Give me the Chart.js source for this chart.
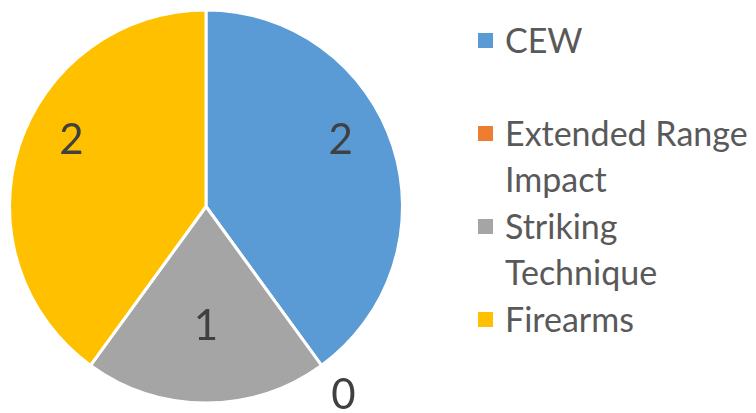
<!DOCTYPE html>
<html>
<head>
  <meta charset="UTF-8">
  <title>Pie</title>
  <style>
    body {
      margin: 0;
      background: #fff;
      width: 756px;
      height: 413px;
      overflow: hidden;
      position: relative;
      font-family: Lato, "Open Sans", sans-serif;
    }
    .pie-box {
      position: absolute;
      left: 0;
      top: 0;
      width: 412px;
      height: 413px;
    }
    /* legend on the right, one item every 93px */
    .legend {
      position: absolute;
      left: 478px;
      top: 17px;
      margin: 0;
      padding: 0;
      list-style: none;
    }
    .legend li {
      position: relative;
      height: 93px;
      padding-left: 27px;
      width: 250px;
      font-size: 34px;
      line-height: 46px;
      color: #595959;
    }
    .legend li span {
      position: absolute;
      left: 0;
      top: 16px;
      width: 15px;
      height: 15px;
    }
  </style>
</head>
<body>
  <div class="pie-box">
    <canvas id="grafica"></canvas>
  </div>
  <ul class="legend" id="leyenda"></ul>

  <script src="https://cdn.jsdelivr.net/npm/chart.js"></script>
  <script>
    var categorias = ['CEW', 'Extended Range Impact', 'Striking Technique', 'Firearms'];
    var valores = [2, 0, 1, 2];
    var colores = ['#5B9BD5', '#ED7D31', '#A5A5A5', '#FFC000'];

    // legend built from the same arrays
    var ul = document.getElementById('leyenda');
    categorias.forEach(function (c, i) {
      var li = document.createElement('li');
      var sq = document.createElement('span');
      sq.style.background = colores[i];
      li.appendChild(sq);
      li.appendChild(document.createTextNode(c));
      ul.appendChild(li);
    });

    // value labels drawn from each arc's own geometry
    var etiquetas = {
      id: 'etiquetas',
      afterDatasetsDraw: function (chart) {
        var ctx = chart.ctx;
        var meta = chart.getDatasetMeta(0);
        ctx.save();
        ctx.font = '42px Lato, "Open Sans", sans-serif';
        ctx.fillStyle = '#404040';
        ctx.textAlign = 'center';
        ctx.textBaseline = 'middle';
        meta.data.forEach(function (arc, i) {
          var p = arc.getProps(['x', 'y', 'startAngle', 'endAngle', 'outerRadius'], true);
          var mid = (p.startAngle + p.endAngle) / 2;
          var r, dy;
          if (valores[i] === 0) {
            r = p.outerRadius * 1.19;
            dy = 0;
          } else {
            r = p.outerRadius * 0.72;
            dy = -22;
          }
          ctx.fillText(String(valores[i]), p.x + Math.cos(mid) * r, p.y + Math.sin(mid) * r + dy);
        });
        ctx.restore();
      }
    };

    var ctx = document.getElementById('grafica').getContext('2d');
    var myChart = new Chart(ctx, {
      type: 'pie',
      data: {
        labels: categorias,
        datasets: [{
          data: valores,
          backgroundColor: colores,
          borderColor: '#fff',
          borderWidth: 3
        }]
      },
      options: {
        responsive: true,
        maintainAspectRatio: false,
        animation: false,
        layout: { padding: 8 },
        plugins: {
          legend: { display: false },
          tooltip: { enabled: false }
        }
      },
      plugins: [etiquetas]
    });
  </script>
</body>
</html>
